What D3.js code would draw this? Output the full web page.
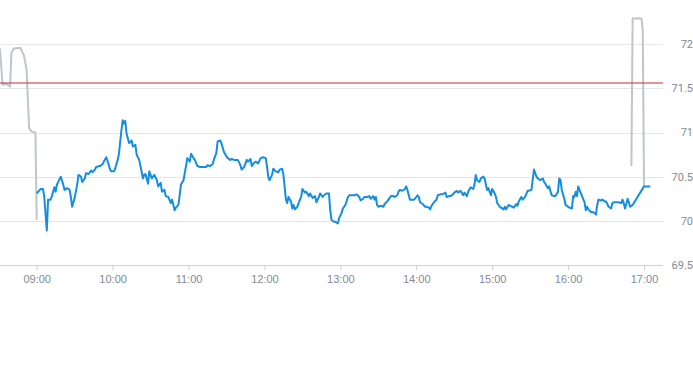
<!DOCTYPE html>
<html>
<head>
<meta charset="utf-8">
<script src="https://cdn.jsdelivr.net/npm/d3@7"></script>
<style>
  body { margin: 0; background: #fff; }
  svg { display: block; font-family: Roboto, "Noto Sans", sans-serif; }
  .grid line { stroke: #e3e6ea; }
  .tick text { fill: #818b96; font-size: 11px; }
</style>
</head>
<body>
<svg width="693" height="365"></svg>
<script>
// trading session (blue)
var session = [
  ["09:00",70.31],["09:03",70.36],["09:05",70.36],["09:06",70.27],["09:08",69.89],["09:09",70.24],
  ["09:11",70.24],["09:12",70.28],["09:14",70.38],["09:15",70.33],["09:16",70.41],["09:19",70.50],
  ["09:21",70.41],["09:22",70.35],["09:24",70.37],["09:26",70.35],["09:27",70.27],["09:28",70.16],
  ["09:30",70.26],["09:32",70.41],["09:33",70.52],["09:35",70.50],["09:36",70.44],["09:38",70.48],
  ["09:39",70.54],["09:41",70.53],["09:43",70.57],["09:44",70.55],["09:46",70.58],["09:47",70.61],
  ["09:50",70.62],["09:52",70.64],["09:53",70.67],["09:55",70.72],["09:56",70.68],["09:58",70.58],
  ["09:59",70.56],["10:01",70.56],["10:02",70.59],["10:04",70.69],["10:05",70.76],["10:07",71.03],
  ["10:08",71.14],["10:09",71.10],["10:10",71.13],["10:11",70.99],["10:13",70.88],["10:15",70.91],
  ["10:16",70.84],["10:18",70.86],["10:19",70.75],["10:21",70.69],["10:22",70.62],["10:24",70.48],
  ["10:25",70.52],["10:26",70.53],["10:28",70.42],["10:29",70.56],["10:31",70.48],["10:33",70.52],
  ["10:35",70.46],["10:36",70.39],["10:38",70.43],["10:39",70.33],["10:41",70.35],["10:42",70.28],
  ["10:44",70.27],["10:46",70.20],["10:47",70.24],["10:49",70.12],["10:50",70.15],["10:52",70.18],
  ["10:53",70.29],["10:54",70.41],["10:56",70.46],["10:57",70.54],["10:58",70.62],["10:59",70.71],
  ["11:01",70.67],["11:02",70.76],["11:04",70.71],["11:05",70.69],["11:07",70.62],["11:09",70.61],
  ["11:12",70.61],["11:14",70.61],["11:15",70.63],["11:17",70.62],["11:19",70.64],["11:20",70.69],
  ["11:22",70.77],["11:23",70.90],["11:25",70.91],["11:26",70.88],["11:28",70.78],["11:30",70.73],
  ["11:31",70.71],["11:33",70.69],["11:34",70.70],["11:36",70.69],["11:38",70.69],["11:39",70.69],
  ["11:41",70.63],["11:42",70.58],["11:44",70.61],["11:46",70.69],["11:47",70.67],["11:49",70.70],
  ["11:50",70.62],["11:52",70.66],["11:53",70.67],["11:55",70.65],["11:57",70.71],["11:59",70.72],
  ["12:01",70.71],["12:02",70.62],["12:03",70.50],["12:04",70.46],["12:06",70.52],["12:07",70.59],
  ["12:09",70.56],["12:11",70.55],["12:12",70.58],["12:14",70.59],["12:15",70.52],["12:17",70.24],
  ["12:18",70.20],["12:19",70.27],["12:21",70.22],["12:22",70.14],["12:23",70.18],["12:24",70.13],
  ["12:26",70.16],["12:27",70.20],["12:29",70.27],["12:30",70.36],["12:32",70.32],["12:33",70.33],
  ["12:35",70.28],["12:36",70.31],["12:38",70.26],["12:40",70.28],["12:41",70.21],["12:43",70.27],
  ["12:44",70.31],["12:46",70.27],["12:47",70.29],["12:49",70.31],["12:51",70.31],["12:52",70.12],
  ["12:53",70.01],["12:55",69.99],["12:56",69.99],["12:58",69.97],["12:59",70.03],["13:01",70.09],
  ["13:02",70.14],["13:04",70.18],["13:06",70.27],["13:07",70.29],["13:09",70.29],["13:11",70.29],
  ["13:13",70.30],["13:15",70.27],["13:16",70.23],["13:18",70.25],["13:19",70.27],["13:21",70.27],
  ["13:23",70.28],["13:24",70.25],["13:26",70.28],["13:27",70.24],["13:28",70.27],["13:29",70.18],
  ["13:30",70.16],["13:32",70.17],["13:34",70.16],["13:35",70.19],["13:37",70.22],["13:38",70.24],
  ["13:40",70.28],["13:42",70.28],["13:43",70.27],["13:45",70.29],["13:46",70.33],["13:47",70.35],
  ["13:49",70.34],["13:51",70.36],["13:52",70.39],["13:53",70.35],["13:55",70.24],["13:56",70.24],
  ["13:58",70.24],["13:59",70.25],["14:01",70.29],["14:02",70.27],["14:03",70.21],["14:05",70.19],
  ["14:07",70.16],["14:08",70.16],["14:10",70.15],["14:11",70.13],["14:12",70.17],["14:14",70.21],
  ["14:16",70.24],["14:17",70.29],["14:19",70.30],["14:20",70.30],["14:22",70.31],["14:23",70.32],
  ["14:24",70.27],["14:26",70.28],["14:27",70.28],["14:29",70.30],["14:30",70.32],["14:32",70.34],
  ["14:33",70.32],["14:35",70.34],["14:37",70.29],["14:38",70.32],["14:40",70.28],["14:41",70.33],
  ["14:43",70.38],["14:45",70.36],["14:46",70.41],["14:47",70.52],["14:48",70.46],["14:50",70.44],
  ["14:51",70.48],["14:53",70.50],["14:54",70.48],["14:56",70.35],["14:57",70.37],["14:59",70.29],
  ["15:00",70.36],["15:02",70.31],["15:03",70.27],["15:04",70.20],["15:06",70.16],["15:07",70.15],
  ["15:09",70.13],["15:10",70.16],["15:11",70.13],["15:13",70.18],["15:14",70.17],["15:16",70.16],
  ["15:17",70.15],["15:19",70.19],["15:20",70.17],["15:21",70.22],["15:23",70.27],["15:24",70.24],
  ["15:26",70.27],["15:28",70.34],["15:29",70.34],["15:31",70.35],["15:32",70.46],["15:33",70.58],
  ["15:35",70.50],["15:36",70.48],["15:38",70.46],["15:40",70.48],["15:41",70.44],["15:42",70.42],
  ["15:44",70.37],["15:45",70.39],["15:47",70.29],["15:49",70.28],["15:50",70.28],["15:52",70.33],
  ["15:53",70.48],["15:54",70.46],["15:55",70.35],["15:57",70.25],["15:58",70.18],["15:59",70.17],
  ["16:01",70.15],["16:03",70.14],["16:04",70.28],["16:05",70.27],["16:06",70.33],["16:07",70.28],
  ["16:08",70.39],["16:09",70.35],["16:11",70.28],["16:13",70.21],["16:14",70.12],["16:15",70.16],
  ["16:16",70.13],["16:18",70.10],["16:19",70.10],["16:21",70.09],["16:22",70.07],["16:23",70.18],
  ["16:24",70.24],["16:26",70.23],["16:27",70.24],["16:29",70.22],["16:30",70.22],["16:32",70.16],
  ["16:34",70.14],["16:35",70.20],["16:36",70.21],["16:38",70.21],["16:40",70.21],["16:42",70.20],
  ["16:43",70.24],["16:44",70.20],["16:45",70.14],["16:46",70.19],["16:47",70.25],["16:48",70.21],
  ["16:49",70.16],["16:51",70.18],["17:00",70.39],["17:05",70.39]
];

// pre-open and after-close (grey)
var preOpen = [
  ["08:31",71.95],["08:33",71.54],["08:36",71.55],["08:39",71.52],["08:40",71.90],["08:42",71.95],
  ["08:47",71.96],["08:48",71.93],["08:50",71.87],["08:52",71.71],["08:54",71.05],["08:56",71.01],
  ["08:59",71.00],["09:00",70.01]
];
var afterClose = [
  ["16:50",70.62],["16:51",72.29],["16:58",72.29],["16:59",72.16],["17:00",70.39]
];

var refLevel = 71.56;
var yTicks = [69.5, 70, 70.5, 71, 71.5, 72];
var timeRange = ["08:31", "17:15"];

var svg = d3.select("svg"),
    plotW = 663,
    plotH = 265;

var parseTime = d3.timeParse("%H:%M");

var x = d3.scaleTime()
    .domain(timeRange.map(parseTime))
    .range([0, plotW]);

var y = d3.scaleLinear()
    .domain([69.5, 72.5])
    .range([plotH, 0]);

// grid
svg.append("g")
    .attr("class", "grid")
  .selectAll("line")
    .data(yTicks.slice(1))
  .enter().append("line")
    .attr("x1", 0)
    .attr("x2", plotW)
    .attr("y1", function(d) { return Math.round(y(d)) + 0.5; })
    .attr("y2", function(d) { return Math.round(y(d)) + 0.5; });

// y labels on the right
svg.append("g")
    .attr("class", "tick")
  .selectAll("text")
    .data(yTicks)
  .enter().append("text")
    .attr("x", 693)
    .attr("y", function(d) { return y(d); })
    .attr("dy", "0.35em")
    .attr("text-anchor", "end")
    .text(function(d) { return d; });

// x axis
var xAxis = svg.append("g")
    .attr("transform", "translate(0," + (Math.round(plotH) + 0.5) + ")")
    .call(d3.axisBottom(x)
      .ticks(d3.timeHour.every(1))
      .tickFormat(d3.timeFormat("%H:%M"))
      .tickSize(5)
      .tickPadding(5));
xAxis.select(".domain").attr("stroke", "#ccd3da").attr("d", "M0,0H" + plotW);
xAxis.selectAll(".tick line").attr("stroke", "#ccd3da");
xAxis.selectAll(".tick text").attr("font-family", null).attr("font-size", null);

var line = d3.line()
    .x(function(d) { return x(parseTime(d[0])); })
    .y(function(d) { return y(d[1]); });

[preOpen, afterClose].forEach(function(s) {
  svg.append("path")
      .datum(s)
      .attr("fill", "none")
      .attr("stroke", "#bcc6cf")
      .attr("stroke-width", 2)
      .attr("stroke-linejoin", "round")
      .attr("d", line);
});

// reference line
svg.append("path")
    .attr("d", "M0," + Math.round(y(refLevel)) + "H" + plotW)
    .style("fill", "none")
    .style("stroke", "#cc2a2f")
    .style("stroke-width", "1.1px");

svg.append("path")
    .datum(session)
    .attr("fill", "none")
    .attr("stroke", "#138ee0")
    .attr("stroke-width", 2)
    .attr("stroke-linejoin", "round")
    .attr("d", line);
</script>
</body>
</html>
